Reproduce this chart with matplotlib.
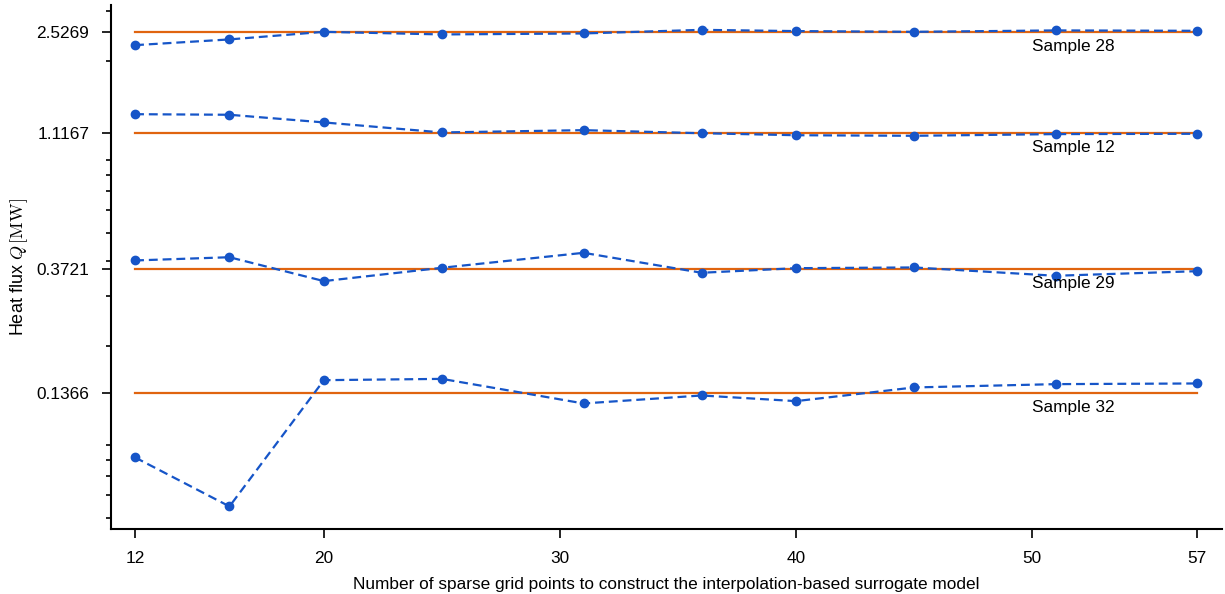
import numpy as np
import matplotlib
matplotlib.use("Agg")
import matplotlib.pyplot as plt
from matplotlib.ticker import FixedLocator, FixedFormatter, LogLocator, NullFormatter

plt.rcParams['font.family'] = ['Liberation Sans', 'DejaVu Sans']
plt.rcParams['mathtext.fontset'] = 'cm'

# number of sparse grid points
n_points = [12, 16, 20, 25, 31, 36, 40, 45, 51, 57]

# reference (true) heat flux per sample
samples = ['Sample 28', 'Sample 12', 'Sample 29', 'Sample 32']
ref_values = [2.5269, 1.1167, 0.3721, 0.1366]

# surrogate predictions
q_s28 = [2.280, 2.388, 2.539, 2.486, 2.506, 2.580, 2.554, 2.539, 2.568, 2.560]
q_s12 = [1.305, 1.299, 1.221, 1.126, 1.147, 1.119, 1.101, 1.096, 1.111, 1.114]
q_s29 = [0.4002, 0.4108, 0.3387, 0.3772, 0.4257, 0.3623, 0.3760, 0.3782, 0.3536, 0.3670]
q_s32 = [0.08146, 0.05483, 0.1521, 0.1537, 0.1260, 0.1344, 0.1284, 0.1434, 0.1473, 0.1481]
predictions = [q_s28, q_s12, q_s29, q_s32]

xticks = [12, 20, 30, 40, 50, 57]
label_x = 50

blue = '#1655c8'
orange = '#e0640f'
fs = 12.4

fig = plt.figure(figsize=(12.25, 5.94), dpi=100)
ax = fig.add_axes([0.0906, 0.1094, 0.907, 0.882])

for name, ref, q in zip(samples, ref_values, predictions):
    ax.plot([n_points[0], n_points[-1]], [ref, ref], color=orange, lw=1.6, zorder=2)
    ax.plot(n_points, q, color=blue, ls=(0, (4, 2.2)), lw=1.6, marker='o', ms=6, zorder=3)
    ax.annotate(name, xy=(label_x, ref), xytext=(0, -5), textcoords='offset points',
                ha='left', va='top', fontsize=fs)

ax.set_yscale('log')
ax.set_xlim(10.98, 58.05)
ax.set_ylim(0.04568, 3.151)

ax.yaxis.set_major_locator(FixedLocator(ref_values))
ax.yaxis.set_major_formatter(FixedFormatter([str(v) for v in ref_values]))
ax.yaxis.set_minor_locator(LogLocator(base=10, subs=np.arange(2, 10)))
ax.yaxis.set_minor_formatter(NullFormatter())
ax.set_xticks(xticks)

ax.spines['top'].set_visible(False)
ax.spines['right'].set_visible(False)
for s in ['left', 'bottom']:
    ax.spines[s].set_linewidth(1.5)

ax.tick_params(axis='both', which='major', length=6.5, width=1.2, pad=9, labelsize=fs)
ax.tick_params(axis='y', which='minor', length=3.5, width=1.2)

ax.set_xlabel('Number of sparse grid points to construct the interpolation-based surrogate model',
              fontsize=fs, labelpad=8)
ax.set_ylabel(r'Heat flux $Q\,[\mathrm{MW}]$', fontsize=13, labelpad=5)

fig.savefig('out.png', dpi=100)
